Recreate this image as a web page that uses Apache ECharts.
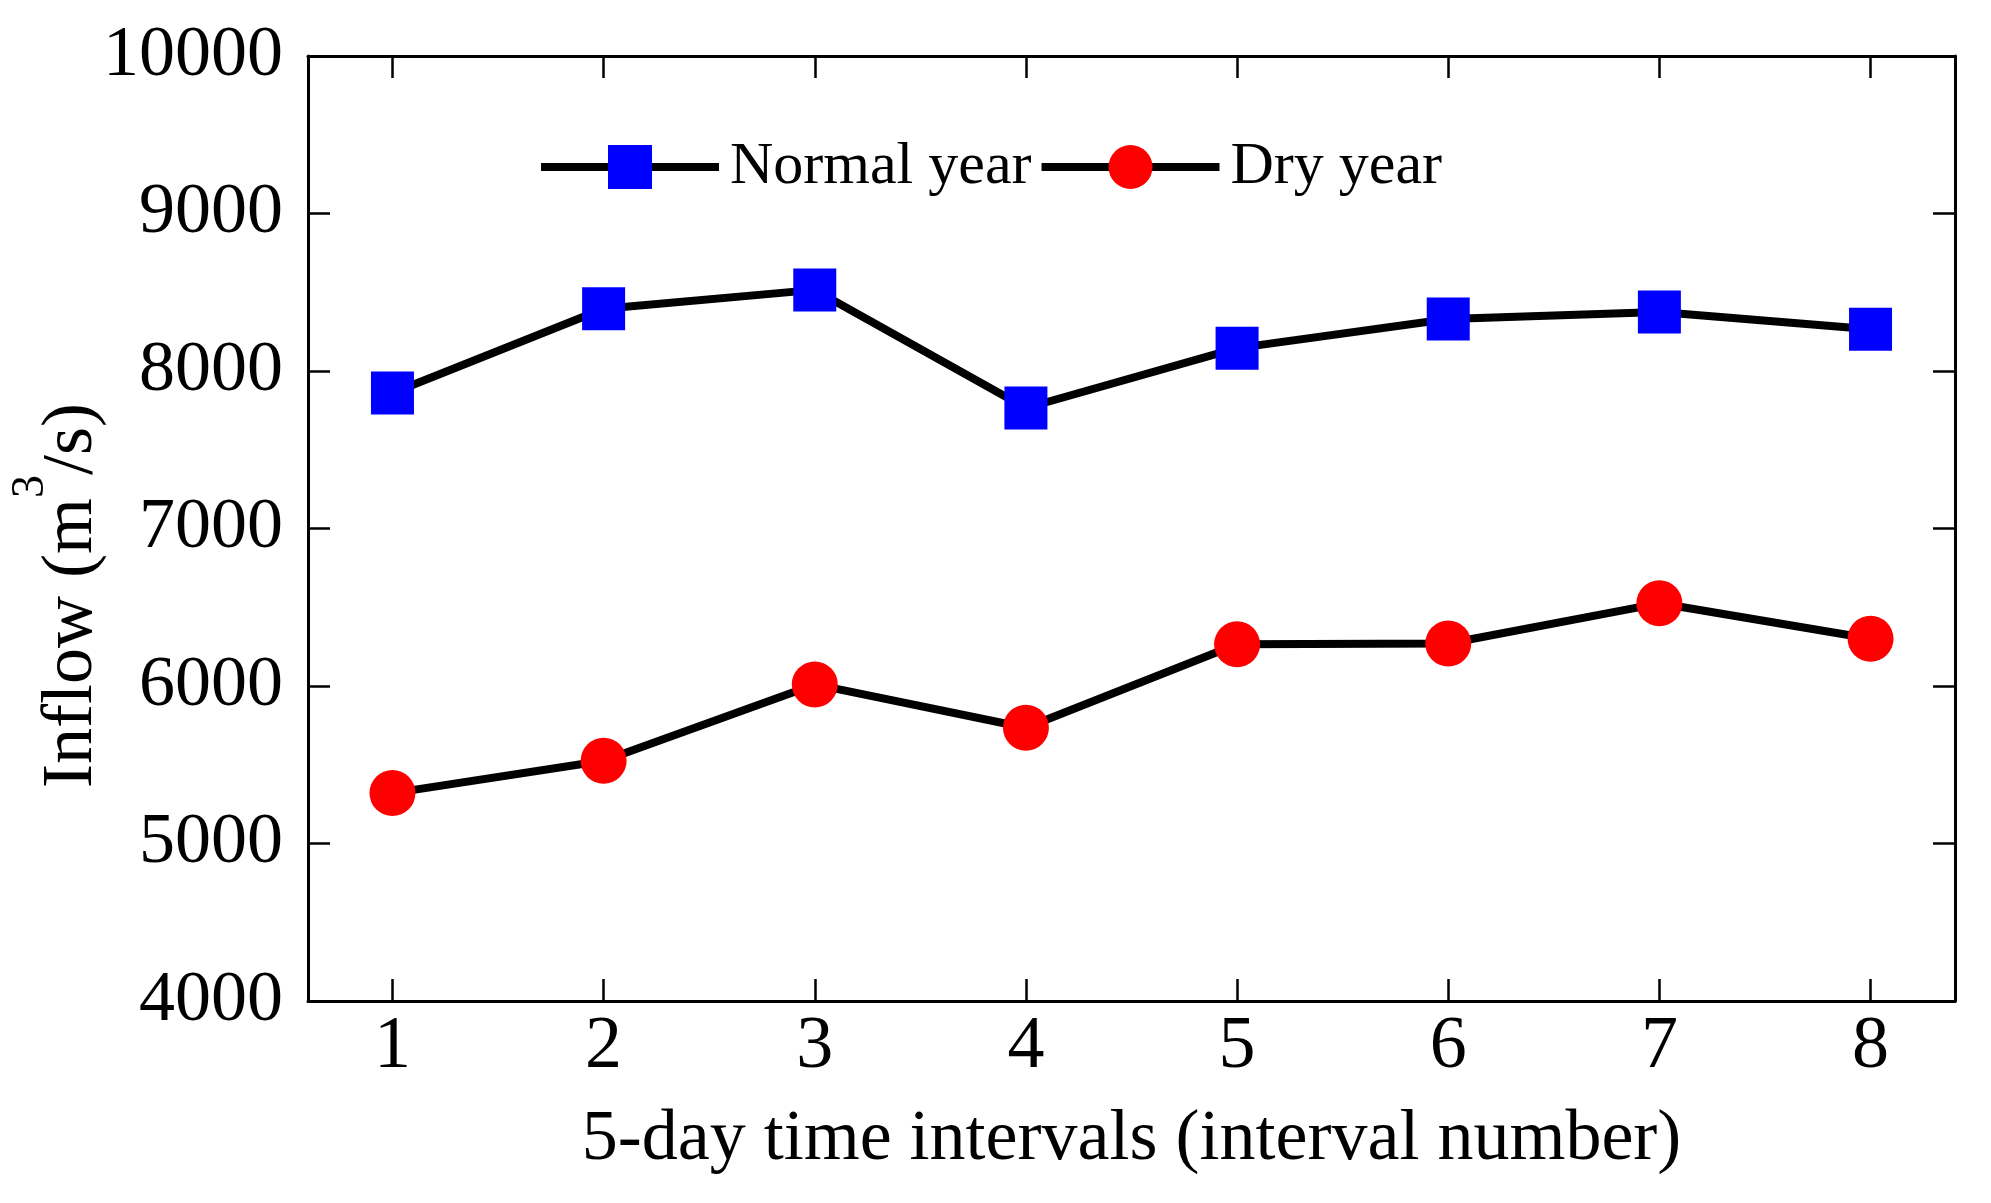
<!DOCTYPE html>
<html>
<head>
<meta charset="utf-8">
<script src="https://cdn.jsdelivr.net/npm/echarts@6/dist/echarts.min.js"></script>
<style>
html,body{margin:0;padding:0;background:#fff;}
#chart{width:1991px;height:1203px;}
</style>
</head>
<body>
<div id="chart"></div>
<script>
const intervals = [1, 2, 3, 4, 5, 6, 7, 8];
const normalYear = [7860, 8395, 8515, 7765, 8145, 8330, 8375, 8265];
const dryYear = [5320, 5525, 6010, 5735, 6265, 6270, 6525, 6300];
const yTicks = [4000, 5000, 6000, 7000, 8000, 9000, 10000];

const FONT = 'Liberation Serif';
const chart = echarts.init(document.getElementById('chart'));

const xBase = {
  type: 'value', min: 0.6, max: 8.4,
  axisLine: { lineStyle: { color: '#000', width: 3 } },
  axisTick: { inside: true, length: 22, customValues: intervals, lineStyle: { color: '#000', width: 2.5 } },
  splitLine: { show: false }
};
const yBase = {
  type: 'value', min: yTicks[0], max: yTicks[yTicks.length - 1], interval: 1000,
  axisLine: { show: true, lineStyle: { color: '#000', width: 3 } },
  axisTick: { show: true, inside: true, length: 22, lineStyle: { color: '#000', width: 2.5 } },
  splitLine: { show: false }
};

chart.setOption({
  backgroundColor: '#fff',
  animation: false,
  grid: { left: 308, right: 36, top: 56, bottom: 202, containLabel: false, outerBoundsMode: 'none' },
  legend: {
    left: 532, top: 132,
    itemWidth: 178, itemHeight: 55, itemGap: 6,
    lineStyle: { width: 8 },
    textStyle: { fontFamily: FONT, fontSize: 60, color: '#000', padding: [0, 0, 0, 6] },
    data: ['Normal year', 'Dry year']
  },
  xAxis: [
    Object.assign({}, xBase, {
      position: 'bottom',
      axisLabel: { customValues: intervals, fontFamily: FONT, fontSize: 74, color: '#000', margin: 10,
        formatter: v => String(v) },
      name: '5-day time intervals (interval number)',
      nameLocation: 'middle', nameGap: 103, nameMoveOverlap: false,
      nameTextStyle: { fontFamily: FONT, fontSize: 72, color: '#000' }
    }),
    Object.assign({}, xBase, { position: 'top', axisLabel: { show: false } })
  ],
  yAxis: [
    Object.assign({}, yBase, {
      position: 'left',
      axisLabel: { fontFamily: FONT, fontSize: 72, color: '#000', margin: 25, padding: [0, 0, 22, 0],
        formatter: v => String(v) },
      name: '{a|Inflow (m}{s|3}{a|/s)}',
      nameLocation: 'middle', nameGap: 200, nameMoveOverlap: false,
      nameTextStyle: {
        padding: [0, 134, 0, 0],
        rich: {
          a: { fontFamily: FONT, fontSize: 72, color: '#000', lineHeight: 100, verticalAlign: 'bottom' },
          s: { fontFamily: FONT, fontSize: 46, color: '#000', lineHeight: 46, verticalAlign: 'top' }
        }
      }
    }),
    Object.assign({}, yBase, { position: 'right', axisLabel: { show: false } })
  ],
  series: [
    {
      name: 'Normal year', type: 'line',
      data: intervals.map((x, i) => [x, normalYear[i]]),
      symbol: 'rect', symbolSize: 43,
      itemStyle: { color: '#0000ff' },
      lineStyle: { color: '#000', width: 8 },
      z: 3
    },
    {
      name: 'Dry year', type: 'line',
      data: intervals.map((x, i) => [x, dryYear[i]]),
      symbol: 'circle', symbolSize: 46,
      itemStyle: { color: '#ff0000' },
      lineStyle: { color: '#000', width: 8 },
      z: 3
    }
  ]
});
</script>
</body>
</html>
